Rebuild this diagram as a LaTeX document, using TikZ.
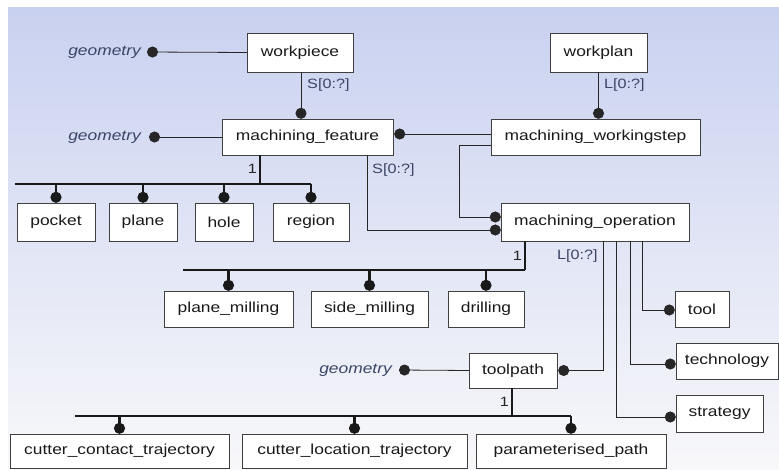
\documentclass[tikz,border=0pt]{standalone}
\usepackage{fontspec}
\setmainfont{Liberation Sans}[FakeStretch=1.2]
\usetikzlibrary{arrows.meta}

\definecolor{bgtop}{HTML}{C9D1F0}
\definecolor{bgmid}{HTML}{E3E7F6}
\definecolor{bglow}{HTML}{F8F8FA}
\definecolor{labc}{HTML}{3B4566}

\begin{document}
\begin{tikzpicture}[x=1pt,y=-1pt,
  ent/.style={draw=black!75, fill=white, inner sep=0pt, minimum height=36pt,
    font=\fontsize{14.5}{16}\selectfont, text=black!90},
  lbl/.style={font=\fontsize{13.5}{15}\selectfont, text=labc, inner sep=1pt},
  geo/.style={font=\itshape\fontsize{14.5}{16}\selectfont, text=labc, inner sep=0pt},
  ball/.style={-{Circle[length=11pt,width=11pt]}},
  link/.style={draw=black!85, line width=0.8pt},
  bus/.style={draw=black!90, line width=2.6pt}]
\useasboundingbox (0,0) rectangle (779,470);
% background
\fill[white] (0,0) rectangle (779,470);
\shade[top color=bgtop, middle color=bgmid, bottom color=bglow] (8,8) rectangle (779,470);

% entities
\node[ent, minimum width=106pt, minimum height=39pt] (wp) at (300,52.5) {workpiece};
\node[ent, minimum width=97pt, minimum height=39pt] (wpl) at (598.5,52.5) {workplan};
\node[ent, minimum width=171pt] (mf) at (307.5,137) {machining\_feature};
\node[ent, minimum width=209pt] (mws) at (595.5,137) {machining\_workingstep};
\node[ent, minimum width=188pt, minimum height=38pt] (mop) at (595,222) {machining\_operation};

\node[ent, minimum width=78pt, minimum height=38pt] (pocket) at (56,222) {pocket};
\node[ent, minimum width=68pt, minimum height=38pt] (plane) at (143,222) {plane};
\node[ent, minimum width=58pt, minimum height=38pt] (hole) at (224,222) {hole};
\node[ent, minimum width=76pt, minimum height=38pt] (region) at (311,222) {region};

\node[ent, minimum width=129pt] (pm) at (228.5,309) {plane\_milling};
\node[ent, minimum width=117pt] (sm) at (369.5,309) {side\_milling};
\node[ent, minimum width=76pt] (dr) at (486,309) {drilling};

\node[ent, minimum width=54pt] (tool) at (702,309) {tool};
\node[ent, minimum width=102pt] (tech) at (727,361) {technology};
\node[ent, minimum width=87pt, minimum height=37pt] (strat) at (719.5,413.5) {strategy};
\node[ent, minimum width=88pt, minimum height=35pt] (tp) at (513,370.5) {toolpath};

\node[ent, minimum width=219pt, minimum height=34pt] (cct) at (119.5,451) {cutter\_contact\_trajectory};
\node[ent, minimum width=225pt, minimum height=34pt] (clt) at (354.5,451) {cutter\_location\_trajectory};
\node[ent, minimum width=190pt, minimum height=34pt] (pp) at (571,451) {parameterised\_path};

% geometry attributes
\node[geo, anchor=east] (geo1) at (141,52) {geometry};
\node[geo, anchor=east] (geo2) at (141,137) {geometry};
\node[geo, anchor=east] (geo3) at (392,370) {geometry};
\coordinate (g1) at (147,52);
\coordinate (g2) at (149,137);
\coordinate (g3) at (399,370);
\draw[link,ball] (wp.west) -- (g1);
\draw[link,ball] (mf.west) -- (g2);
\draw[link,ball] (tp.west) -- (g3);

% relations
\draw[link,ball] ([xshift=1pt]wp.south) -- ([xshift=1pt]wp.south |- mf.north);
\node[lbl, anchor=west] (s1) at (306,85) {S[0:?]};
\draw[link,ball] (wpl.south) -- (wpl.south |- mws.north);
\node[lbl, anchor=west] (l1) at (603,85) {L[0:?]};
\draw[link,ball,shorten >=1pt] ([yshift=3pt]mws.west) -- ([yshift=3pt]mf.east);
\draw[link,ball] ([yshift=-8pt]mws.west) -- ++(-31,0) |- ([yshift=5pt]mop.west);
\draw[link,ball] ([xshift=-26pt]mf.south east) |- ([yshift=-8pt]mop.west);
\node[lbl, anchor=west] (s2) at (371,170) {S[0:?]};

\draw[link,ball] ([xshift=8pt]mop.south) |- ([xshift=1pt]tp.east);
\node[lbl, anchor=west] (l2) at (556,256) {L[0:?]};
\draw[link,ball] ([xshift=21pt]mop.south) |- ([yshift=-3.5pt]strat.west);
\draw[link,ball] ([xshift=35pt]mop.south) |- ([yshift=-3pt]tech.west);
\draw[link,ball] ([xshift=47pt]mop.south) |- ([yshift=-1pt]tool.west);

% subtypes
\coordinate (fb) at (260,184);
\draw[bus] ([xshift=-47.5pt]mf.south) -- (fb);
\node[lbl, anchor=east, text=black!85] (one1) at (258,169) {1};
\draw[bus] ([xshift=-41pt]pocket.north |- fb) -- (region.north |- fb);
\foreach \n in {pocket,plane,hole,region}
  \draw[bus,ball] (\n.north |- fb) -- (\n.north);

\coordinate (ob) at (525,270);
\draw[bus] ([xshift=-70pt]mop.south) -- (ob);
\node[lbl, anchor=east, text=black!85] (one2) at (523,256) {1};
\draw[bus] ([xshift=-45.5pt]pm.north |- ob) -- (ob);
\foreach \n in {pm,sm,dr}
  \draw[bus,ball] (\n.north |- ob) -- (\n.north);

\coordinate (tb) at (512,416);
\draw[bus] ([xshift=-1pt]tp.south) -- (tb);
\node[lbl, anchor=east, text=black!85] (one3) at (510,402) {1};
\draw[bus] ([xshift=-44.5pt]cct.north |- tb) -- (pp.north |- tb);
\foreach \n in {cct,clt,pp}
  \draw[bus,ball] (\n.north |- tb) -- (\n.north);
\end{tikzpicture}
\end{document}
